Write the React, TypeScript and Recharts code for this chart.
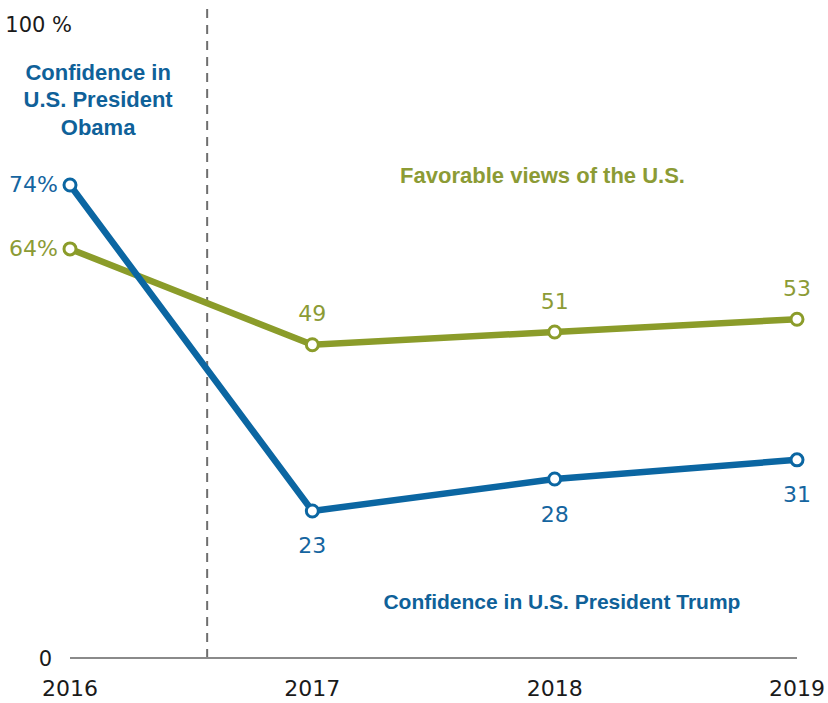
import React from "react";
import {
  LineChart,
  Line,
  XAxis,
  YAxis,
  ReferenceLine,
  ReferenceDot,
  LabelList,
} from "recharts";

const years = [2016, 2017, 2018, 2019];
const favorableUS = [64, 49, 51, 53];
const confidencePresident = [74, 23, 28, 31];
const yTicks = [0, 100];
const leaderChangeX = 2016.566;

const BLUE = "#0b66a2";
const BLUE_TEXT = "#1565a0";
const GREEN = "#8b9c2a";
const GREEN_TEXT = "#8c9b35";
const FONT = "'DejaVu Sans', sans-serif";
const BOLD_FONT = "'Liberation Sans', Arial, sans-serif";

const data = years.map((y, i) => ({
  year: y,
  fav: favorableUS[i],
  conf: confidencePresident[i],
}));

const makeLabel = (color: string, above: boolean) => (props: any) => {
  const { x, y, value, index } = props;
  if (index === 0) {
    return (
      <text
        x={x - 12}
        y={y}
        textAnchor="end"
        dominantBaseline="central"
        fontSize={22}
        fontFamily={FONT}
        fill={color}
      >
        {value + "%"}
      </text>
    );
  }
  return (
    <text
      x={x}
      y={above ? y - 31 : y + 35}
      textAnchor="middle"
      dominantBaseline="central"
      fontSize={22}
      fontFamily={FONT}
      fill={color}
    >
      {value}
    </text>
  );
};

const YTick = (props: any) => {
  const { x, y, payload } = props;
  const isTop = payload.value === 100;
  return (
    <text
      x={isTop ? x + 2 : x - 18}
      y={isTop ? y + 6 : y + 1}
      textAnchor="end"
      dominantBaseline="central"
      fontSize={21}
      fontFamily={FONT}
      fill="#1a1a1a"
    >
      {isTop ? "100 %" : "0"}
    </text>
  );
};

const ObamaLabel = (props: any) => {
  const { viewBox } = props;
  const cx = viewBox.x + (viewBox.width || 0) / 2;
  const cy = viewBox.y + (viewBox.height || 0) / 2;
  const lines = ["Confidence in", "U.S. President", "Obama"];
  return (
    <text
      textAnchor="middle"
      fontSize={22}
      fontWeight="bold"
      fontFamily={BOLD_FONT}
      fill="#0f6199"
    >
      {lines.map((l, i) => (
        <tspan key={i} x={cx} y={cy + (i - 1) * 27.5} dominantBaseline="central">
          {l}
        </tspan>
      ))}
    </text>
  );
};

export default function App() {
  return (
    <div style={{ position: "absolute", left: 0, top: 0, background: "#fff" }}>
      <LineChart
        width={828}
        height={703}
        data={data}
        margin={{ top: 6, right: 31, bottom: 0, left: 0 }}
      >
        <XAxis
          dataKey="year"
          type="number"
          domain={[2016, 2019]}
          ticks={years}
          axisLine={{ stroke: "#8a8a8a", strokeWidth: 2 }}
          tickLine={false}
          tickSize={0}
          tickMargin={22}
          height={45}
          tick={{ fontSize: 22, fontFamily: FONT, fill: "#1a1a1a" }}
        />
        <YAxis
          type="number"
          domain={[0, 102]}
          ticks={yTicks}
          width={70}
          axisLine={false}
          tickLine={false}
          tickSize={0}
          tickMargin={0}
          tick={<YTick />}
        />
        <ReferenceLine
          x={leaderChangeX}
          stroke="#6e6e6e"
          strokeWidth={2}
          strokeDasharray="9 7"
        />
        <ReferenceDot
          x={2017.95}
          y={75.6}
          r={0}
          stroke="none"
          fill="none"
          label={{
            value: "Favorable views of the U.S.",
            position: "center",
            fill: GREEN_TEXT,
            fontSize: 22,
            fontWeight: "bold",
            fontFamily: BOLD_FONT,
          }}
        />
        <ReferenceDot
          x={2018.03}
          y={8.8}
          r={0}
          stroke="none"
          fill="none"
          label={{
            value: "Confidence in U.S. President Trump",
            position: "center",
            fill: "#0f6199",
            fontSize: 21,
            fontWeight: "bold",
            fontFamily: BOLD_FONT,
          }}
        />
        <ReferenceDot
          x={2016.116}
          y={87.3}
          r={0}
          stroke="none"
          fill="none"
          label={<ObamaLabel />}
        />
        <Line
          dataKey="fav"
          stroke={GREEN}
          strokeWidth={6.5}
          dot={{ r: 6, fill: "#fff", stroke: GREEN, strokeWidth: 3 }}
          isAnimationActive={false}
        >
          <LabelList dataKey="fav" content={makeLabel(GREEN_TEXT, true)} />
        </Line>
        <Line
          dataKey="conf"
          stroke={BLUE}
          strokeWidth={6.5}
          dot={{ r: 6, fill: "#fff", stroke: BLUE, strokeWidth: 3 }}
          isAnimationActive={false}
        >
          <LabelList dataKey="conf" content={makeLabel(BLUE_TEXT, false)} />
        </Line>
      </LineChart>
    </div>
  );
}
